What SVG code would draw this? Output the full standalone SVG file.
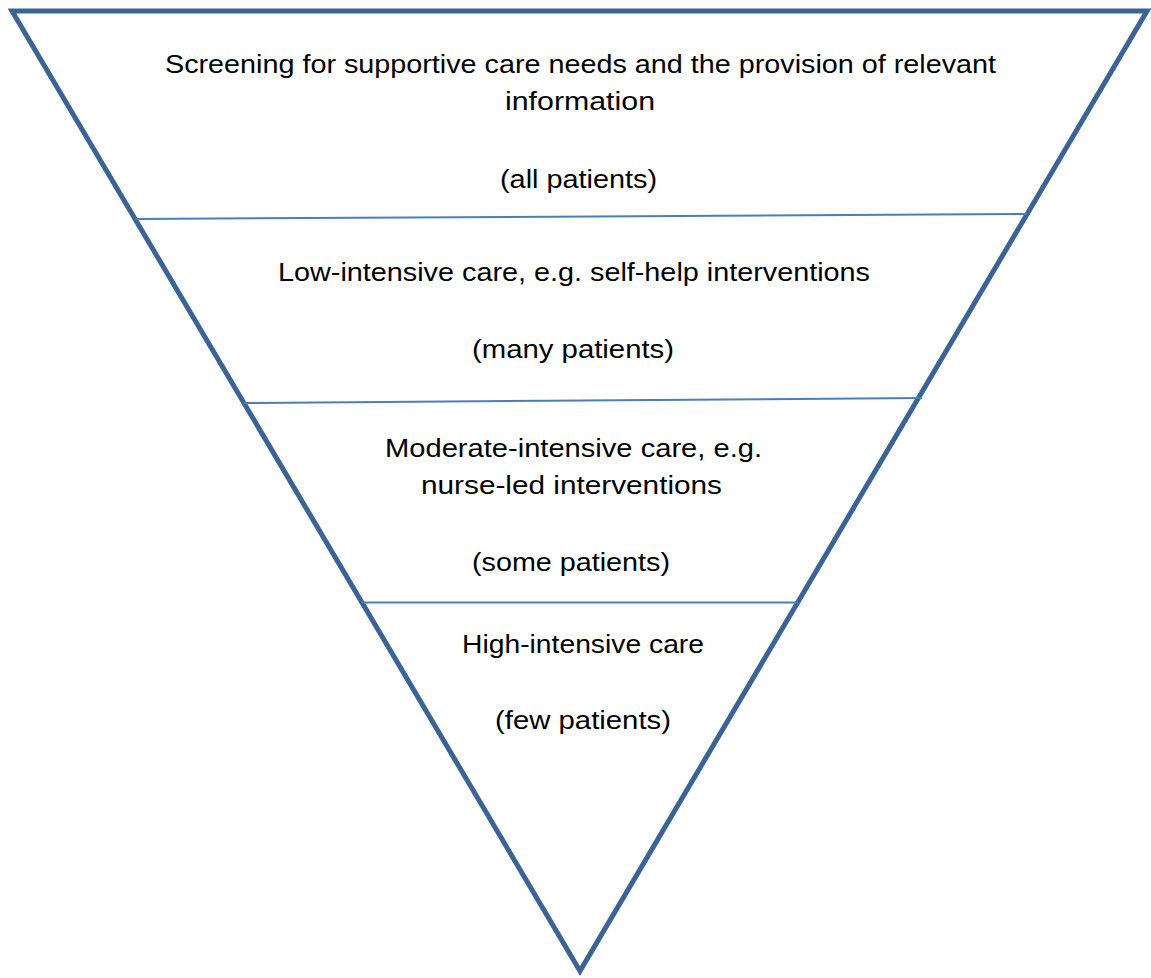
<svg xmlns="http://www.w3.org/2000/svg" width="1151" height="978" viewBox="0 0 1151 978">
  <style>
    .tri { fill: #ffffff; stroke: #3b6494; stroke-width: 5; stroke-linejoin: miter; }
    .div { stroke: #4a7ebb; stroke-width: 2; fill: none; }
    .lbl { font-family: "Liberation Sans", Arial, sans-serif; font-size: 25px; fill: #000000; text-anchor: middle; }
  </style>
  <rect width="1151" height="978" fill="#ffffff"/>
  <g id="pyramid">
    <path class="tri" d="M 12 11 L 1147 11 L 580 971 Z"/>
  </g>
  <g id="connectors">
    <line class="div" x1="135" y1="219" x2="1027" y2="214"/>
    <line class="div" x1="244" y1="403" x2="922" y2="398"/>
    <line class="div" x1="362" y1="602.5" x2="798" y2="602.5"/>
  </g>
  <g id="tier1">
    <text class="lbl" x="580.5" y="73" textLength="831" lengthAdjust="spacingAndGlyphs">Screening for supportive care needs and the provision of relevant</text>
    <text class="lbl" x="580" y="110" textLength="150" lengthAdjust="spacingAndGlyphs">information</text>
    <text class="lbl" x="578.5" y="188" textLength="157" lengthAdjust="spacingAndGlyphs">(all patients)</text>
  </g>
  <g id="tier2">
    <text class="lbl" x="574" y="281" textLength="592" lengthAdjust="spacingAndGlyphs">Low-intensive care, e.g. self-help interventions</text>
    <text class="lbl" x="573" y="358" textLength="202" lengthAdjust="spacingAndGlyphs">(many patients)</text>
  </g>
  <g id="tier3">
    <text class="lbl" x="573.5" y="457" textLength="377" lengthAdjust="spacingAndGlyphs">Moderate-intensive care, e.g.</text>
    <text class="lbl" x="571.5" y="494" textLength="301" lengthAdjust="spacingAndGlyphs">nurse-led interventions</text>
    <text class="lbl" x="571" y="571" textLength="198" lengthAdjust="spacingAndGlyphs">(some patients)</text>
  </g>
  <g id="tier4">
    <text class="lbl" x="583" y="653" textLength="242" lengthAdjust="spacingAndGlyphs">High-intensive care</text>
    <text class="lbl" x="583" y="729" textLength="176" lengthAdjust="spacingAndGlyphs">(few patients)</text>
  </g>
</svg>
